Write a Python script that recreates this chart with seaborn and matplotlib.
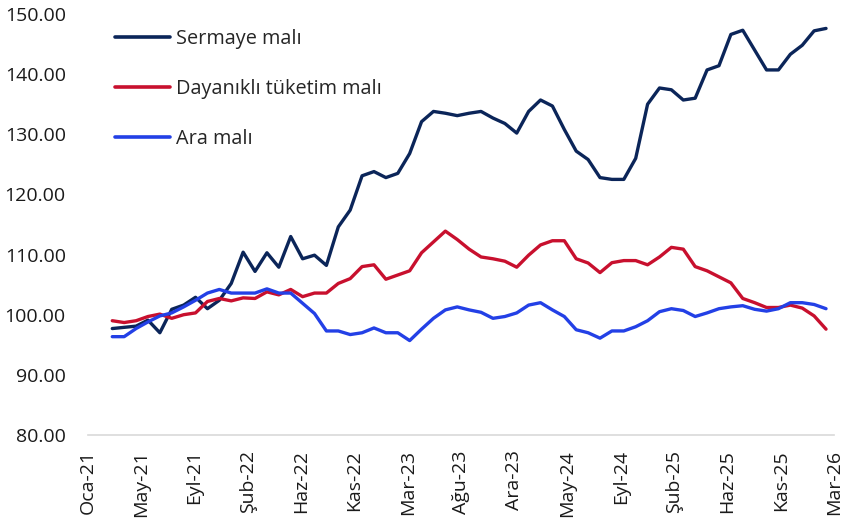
import numpy as np
import pandas as pd
import matplotlib
matplotlib.use("Agg")
import matplotlib.pyplot as plt
import seaborn as sns

# ---- data (monthly index values) ----
period = list(range(61))
sermaye = [97.7, 97.9, 98.1, 99.1, 97.0, 100.9, 101.6, 102.9, 101.0, 102.4,
           105.2, 110.4, 107.2, 110.3, 107.9, 113.0, 109.3, 109.9, 108.2, 114.6,
           117.4, 123.1, 123.8, 122.8, 123.5, 126.8, 132.1, 133.8, 133.5, 133.1,
           133.5, 133.8, 132.7, 131.8, 130.2, 133.8, 135.7, 134.7, 130.8, 127.2,
           125.8, 122.8, 122.5, 122.5, 126.0, 135.0, 137.7, 137.4, 135.7, 136.0,
           140.7, 141.4, 146.6, 147.3, 144.0, 140.7, 140.7, 143.3, 144.8, 147.2,
           147.6]
dayanikli = [99.0, 98.7, 99.0, 99.7, 100.1, 99.4, 100.0, 100.3, 102.2, 102.7,
             102.3, 102.8, 102.7, 103.8, 103.3, 104.2, 103.0, 103.6, 103.6, 105.2,
             106.0, 108.0, 108.3, 105.9, 106.6, 107.3, 110.3, 112.1, 113.9, 112.5,
             110.9, 109.6, 109.3, 108.9, 107.9, 109.9, 111.6, 112.3, 112.3, 109.3,
             108.6, 107.0, 108.65, 109.0, 109.0, 108.3, 109.6, 111.2, 110.9, 108.0,
             107.3, 106.3, 105.3, 102.7, 102.0, 101.2, 101.2, 101.6, 101.1, 99.8,
             97.6]
ara = [96.35, 96.35, 97.7, 98.8, 99.8, 100.3, 101.3, 102.4, 103.6, 104.2,
       103.6, 103.6, 103.6, 104.3, 103.6, 103.6, 101.9, 100.2, 97.3, 97.3,
       96.7, 97.0, 97.8, 97.0, 97.0, 95.7, 97.6, 99.4, 100.8, 101.3,
       100.8, 100.4, 99.4, 99.7, 100.3, 101.6, 102.0, 100.8, 99.7, 97.5,
       97.0, 96.1, 97.3, 97.3, 98.0, 99.0, 100.5, 101.0, 100.7, 99.7,
       100.3, 101.0, 101.3, 101.5, 100.9, 100.6, 101.0, 102.0, 102.0, 101.7,
       101.0]
series_names = ["Sermaye malı", "Dayanıklı tüketim malı", "Ara malı"]
tick_labels = ["Oca-21", "May-21", "Eyl-21", "Şub-22", "Haz-22", "Kas-22", "Mar-23",
               "Ağu-23", "Ara-23", "May-24", "Eyl-24", "Şub-25", "Haz-25", "Kas-25", "Mar-26"]
y_ticks = [80, 90, 100, 110, 120, 130, 140, 150]
colors = ["#0B2559", "#C8102E", "#2340E6"]

df = pd.DataFrame({"t": period,
                   series_names[0]: sermaye,
                   series_names[1]: dayanikli,
                   series_names[2]: ara})
long = df.melt(id_vars="t", var_name="series", value_name="value")

sns.set_theme(style="white")
plt.rcParams["font.family"] = ["Open Sans", "DejaVu Sans"]

W, H = 844, 525
fig = plt.figure(figsize=(W / 100, H / 100), dpi=100)
ax = fig.add_axes([88 / W, 1 - 435 / H, (834 - 88) / W, (435 - 14) / H])

sns.lineplot(data=long, x="t", y="value", hue="series", hue_order=series_names,
             palette=colors, linewidth=2.4, ax=ax)

ax.set_ylim(80, 150)
ax.set_yticks(y_ticks)
ax.set_yticklabels([f"{v:.2f}" for v in y_ticks], fontsize=14)
x0, x1 = -2.04, 60.67
ax.set_xlim(x0, x1)
ax.set_xticks(np.linspace(x0, x1, len(tick_labels)))
ax.set_xticklabels(tick_labels, rotation=90, fontsize=14)
ax.set_xlabel("")
ax.set_ylabel("")

for s in ["top", "right", "left"]:
    ax.spines[s].set_visible(False)
ax.spines["bottom"].set_color("#D9D9D9")
ax.spines["bottom"].set_linewidth(1.2)
ax.tick_params(axis="x", length=6, width=1.2, color="#D9D9D9", labelcolor="#1a1a1a", pad=5)
ax.tick_params(axis="y", length=0, pad=16, labelcolor="#1a1a1a")
ax.grid(False)

leg = ax.legend(loc="upper left", bbox_to_anchor=(115 / W, 1 - 29 / H),
                bbox_transform=fig.transFigure, frameon=False, fontsize=14.3,
                handlelength=2.75, handletextpad=0.3, labelspacing=1.52,
                borderpad=0, borderaxespad=0)
for line in leg.get_lines():
    line.set_linewidth(2.6)

fig.savefig("out.png", dpi=100)
